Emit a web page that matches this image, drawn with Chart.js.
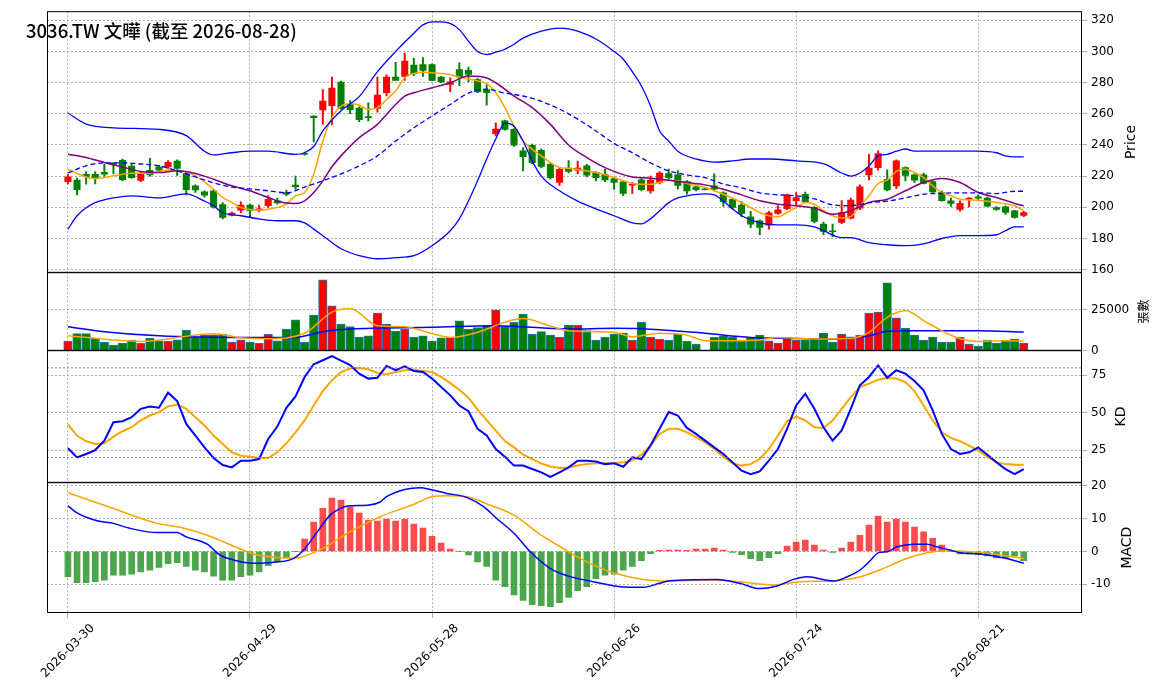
<!DOCTYPE html>
<html>
  <head>
    <style>
      body { margin: 0; background: #fff; }
      .panel { position: absolute; left: 0; width: 1164px; }
      #title {
        position: absolute; left: 26px; top: 17px; z-index: 5;
        font: 500 18.5px "Noto Sans CJK TC", "DejaVu Sans", sans-serif;
      }
    </style>
  </head>
  <body>
    <div id="title">3036.TW 文曄 (截至 2026-08-28)</div>
    <div class="panel" style="top:0;height:284px"><canvas id="priceChart"></canvas></div>
    <div class="panel" style="top:261px;height:101px"><canvas id="volChart"></canvas></div>
    <div class="panel" style="top:339px;height:155px"><canvas id="kdChart"></canvas></div>
    <div class="panel" style="top:471px;height:227px"><canvas id="macdChart"></canvas></div>

    <script src="https://cdn.jsdelivr.net/npm/chart.js"></script>
    <script>
      // x ticks: bar index -> date
      tickIdx = [0, 20, 40, 60, 80, 100];
      tickDates = ['2026-03-30', '2026-04-29', '2026-05-28', '2026-06-26', '2026-07-24', '2026-08-21'];

      opens = [216.5,217.4,221.2,221.2,222.5,228.3,230.2,226.4,217.2,223.8,225.9,225.9,229.6,221.7,213.8,209.9,210.6,201.8,195,198.2,
        201.4,198.2,201,204.2,209.5,214.2,234.6,258.5,262.4,265.2,280.3,266,263.7,258.2,263.5,273.5,283.5,284,291.2,291.6,
        291.6,283.5,278.8,288.4,287.8,282,275.6,247.3,255.4,250,236.2,239.8,236.6,227.6,215.9,225.1,223.8,226.6,222.3,221.2,
        218.5,216.3,214.2,217.6,210.6,215.9,221.7,220.8,216.5,213.1,211.8,213.8,209.3,205.2,201.4,193.9,191.4,188.6,196.1,199.2,
        204.2,208.4,199.9,189.2,184.9,190.3,193.1,199.5,220.8,225.5,218,213.8,225.5,220.8,220.8,216.5,209.5,204.2,198.6,205.2,
        206.7,205.9,199.9,200.3,197.8,194.8];
      highs = [221,218.7,223,223,227.6,228.7,231,227.5,222.5,231.5,227,230,230.5,222.5,214.5,210.5,211,203,197,203.5,
        202,201.5,207.5,206,211,220,235.5,258.8,275.6,283.5,281,268.5,264.5,267,283.5,285,293,299,295.5,296,
        292,284,283,292.7,290,282.5,278.8,254.2,256,250.5,238.4,240.5,237.5,228.5,225,230,229.5,227.5,223,224.5,
        219,216.8,216,218.5,220,223,224.5,223.5,217.2,213.6,212.2,221.5,210,206,203.8,197.5,192,197.5,201,208.5,
        209.5,209.7,200.5,190.5,189.2,204.3,206,214.5,234,236.2,224,230.5,226,221.5,222,217,210.5,206,204.2,206.3,
        208,206.5,200.5,201,198,197.5];
      lows = [215,208,214.8,215,220,221.5,217,218.5,216.5,220,222.5,225,220.5,208,209.5,206.5,199.5,192.5,194.5,196.5,
        194,197,200,202,207.5,211.5,233.5,242,253.2,253,263,260,255,255.5,261,271.5,283,281.4,284.5,284,
        281,280,274,278,280.5,273.5,265.5,245.8,249.5,239,223.4,228,225.5,218,214,222,221.5,219.5,217,216.5,
        211.5,207.5,208.9,210.5,209,215,218,211.7,208.5,210.5,211.2,210.5,200.6,199,194,187,182.4,186,195.5,198.5,
        201,203,190,182.5,181.2,189.5,192.5,198.5,217.5,223.8,210.5,212,217,216,215,209.5,204,200.5,197.5,200.3,
        205,200.5,198,195.5,193,194];
      closes = [219.5,211.4,219.7,218.7,221.2,227.6,217.8,219.1,221.2,220.8,223.8,228.9,224.9,211.4,211.2,207.8,200.3,193.5,196.3,201.4,
        197.8,199,205.2,202.9,208.4,213.3,234.1,257.5,268.2,276.5,263.5,262.6,256.2,257.5,272,283.5,281.4,293.8,285.7,287.8,
        281.4,280.5,280.5,283.5,285.2,274.1,273.5,250.2,250,239.8,232.5,228.7,226.3,219.1,224.4,223,225.1,220.6,219.1,217.6,
        215.9,208.9,214.8,211.4,217.4,221.9,219.1,214,210.6,211.4,211.4,211.6,203.7,199.9,196.1,189.2,187.1,196.5,198.4,208,
        206.3,203.7,190.9,184.5,184.5,196.7,204.6,213.1,225.1,234.5,211.2,229.8,220.4,217.4,215.3,209.9,204.2,202.5,202.5,206,
        205.9,200.7,198.6,196.7,193.5,196.7];
      volumes = [5900,10400,10400,7700,5300,3500,4700,6500,4500,7700,6100,5700,6700,12600,8100,9700,9700,10100,5300,6700,
        5300,4500,10100,6100,13200,18700,5100,21700,43000,27200,16200,14600,8300,9100,22900,16200,12000,13200,8300,9100,
        5900,7900,8300,18100,13000,14000,15400,24800,14800,17300,22300,10100,11600,9500,8300,15600,15600,12200,6500,8100,
        10100,10800,6500,17300,8100,7100,6500,10100,5700,4100,300,8100,9100,8100,5700,8100,9500,6100,4700,8100,
        6500,6500,7100,10800,5300,10100,8500,9500,22900,23500,41200,19900,13800,9500,6500,8300,5300,5300,8100,4100,
        2800,6500,4700,6500,7100,4700];

      // [bar index, value]
      ma5 = [[0,224.4],[2,219.5],[3,218.5],[5,220.2],[7,221.9],[9,221.9],[11,224],[12,223.8],[14,220.2],[16,211.6],[17,206.3],[18,203.1],
        [19,199.9],[21,198.2],[22,198.8],[24,202],[25,207.4],[26,209.5],[27,221.2],[28,242.6],[29,257.5],[30,265],[31,266.5],[32,265.6],
        [33,262.8],[34,263.9],[35,269.2],[36,274.6],[37,283.1],[38,285.9],[39,286.7],[40,286.3],[42,285.2],[43,283.5],[45,281],[46,279.3],
        [47,273.5],[48,263.9],[49,252.2],[50,242.6],[51,237.2],[52,233],[53,228.7],[54,225.5],[55,225],[58,222.3],[60,219.1],[62,215.3],
        [63,214.8],[64,214.8],[66,217.4],[67,217],[68,215.3],[70,212.7],[72,208.4],[74,203.1],[76,196.7],[77,194.6],[78,193.9],[79,196.7],
        [80,199.9],[81,203.1],[82,202],[83,197.8],[84,194.6],[85,193.1],[86,194],[87,201],[88,207.4],[89,215.3],[90,217.4],[91,223],
        [92,224.4],[93,222.3],[94,219.1],[95,213.8],[96,209.5],[97,207.4],[98,205.2],[100,204.6],[102,203.1],[104,201],[105,197.8]];
      ma10 = [[0,234],[2,232],[4,228.7],[6,225.9],[8,223],[10,222.3],[12,223.4],[14,221.7],[16,218],[18,213.8],[20,210.6],[22,206.3],
        [24,202.7],[25,202.5],[26,204.2],[27,209.5],[28,217],[29,226],[30,233],[32,244.7],[34,253.2],[35,259.6],[36,266],[37,271.4],
        [38,273.5],[40,276.7],[42,279.9],[44,284.2],[46,283],[47,279.9],[49,271.4],[51,263.9],[53,253.2],[55,240],[57,231.9],[59,225.5],
        [62,219.5],[64,218.7],[66,217.4],[68,215.9],[70,214.4],[72,211.6],[74,208],[76,204.2],[78,202],[80,201],[82,199.5],[84,195.6],
        [86,197.8],[88,203.1],[90,205.2],[92,210.6],[94,215.9],[96,218.5],[98,215.9],[100,209.5],[102,206.3],[104,202.5],[105,201]];
      ma20 = [[0,222],[2,226.6],[4,228.5],[6,228.5],[8,227.8],[10,226.6],[12,223.4],[14,219.5],[16,215.7],[18,213],[20,211.8],[22,210.6],
        [24,209.3],[26,213],[28,217],[30,221.4],[32,226.6],[34,233],[36,242.5],[38,251],[40,258.6],[42,266],[44,273.3],[46,275.8],
        [48,273.3],[50,271.4],[52,268],[54,263],[56,256.6],[58,249],[60,241],[62,235],[64,228.5],[66,223.4],[68,220.8],[70,219],
        [72,215],[74,212.5],[76,209.3],[78,208],[80,207.4],[82,205.4],[84,201.6],[86,201],[88,203],[90,204],[92,206],[94,208.4],
        [96,209],[98,209.3],[100,209.3],[102,208.8],[104,210.3],[105,210.3]];
      bbUpper = [[0,260.5],[2,253.4],[5,251],[10,250],[13,246],[15,236],[16,233.6],[18,235],[20,236],[22,236],[25,234],[26,235],
        [27,239],[28,249],[30,262],[32,271],[34,287],[36,300],[38,311.7],[39,317],[40,319],[41,319],[42,318],[43,314],[44,306.6],
        [45,300],[46,298],[47,299.5],[48,301.4],[49,304.6],[50,308.5],[52,313],[54,315],[55,314.5],[56,313],[58,308],[60,300],[61,295],
        [62,287],[63,277.8],[64,265],[65,249],[66,242.5],[67,236],[69,231],[71,229],[73,229.8],[75,231],[77,231],[80,229.8],[83,228],
        [85,222],[86,220],[87,222],[88,226.6],[89,233],[90,234],[91,236],[92,237.4],[93,236],[97,236],[100,236],[102,235],[103,233],
        [104,232.3],[105,232.3]];
      bbLower = [[0,186],[1,194.6],[2,199.7],[3,203],[5,206],[7,207.4],[10,206],[13,208.6],[15,204],[16,201],[17,196.5],[19,194.6],
        [21,192.6],[23,191.4],[25,191.4],[26,190],[27,186],[28,181.8],[30,173.4],[32,169],[34,167],[36,167.7],[38,169],[40,175.4],
        [42,185],[43,192.6],[44,204],[45,217],[46,231],[47,243.8],[48,254],[49,252],[50,242.5],[51,229.8],[52,220],[54,210.6],[56,204],
        [58,199],[60,194.6],[62,190],[63,189.4],[64,192.6],[65,197.8],[66,203],[67,206],[68,207.4],[70,208.6],[71,208],[72,204],[73,199],
        [74,194.6],[76,190],[78,188.8],[80,188.8],[82,187.5],[83,185],[85,180.5],[86,180.5],[88,177.3],[90,176],[92,175.4],[94,176.6],
        [96,180],[98,181.8],[100,181.8],[102,182.4],[103,185],[104,187.5],[105,187.5]];
      volMa5 = [[0,9100],[8,5700],[16,10400],[19,7900],[22,7300],[26,10600],[29,23400],[31,25600],[34,15200],[37,14600],[40,10400],
        [42,8100],[45,11200],[48,17300],[50,19500],[53,15000],[55,12200],[60,11200],[62,8500],[65,10600],[68,9500],[70,6100],[73,6100],
        [76,6500],[78,8100],[82,7100],[86,7500],[88,11200],[90,20300],[92,24400],[94,18300],[96,12200],[98,7300],[100,5700],[103,6100],[105,5900]];
      volMa20 = [[0,14600],[4,11600],[10,9100],[20,8100],[25,8100],[28,11600],[31,13200],[40,14200],[47,15200],[55,13200],[60,13600],
        [65,12800],[70,10600],[75,8100],[80,7500],[85,7000],[88,9100],[90,11800],[92,12200],[100,12200],[105,11400]];

      kValues = [26.2,20.1,22.4,25,31.3,43.6,44.3,47,52.6,54.2,53.3,63.4,57.8,42.5,34.7,26.8,19.7,15,13.4,17.9,
        17.9,19,32.4,40.7,53.3,60.9,73.9,82.4,85.1,87.8,84.8,81.9,76.1,72.8,73.4,81.3,78.4,81,77.9,77.2,
        72.8,67.2,61.6,54.8,51,39.2,34.7,25.7,20.6,14.6,14.6,12.3,10.1,7.1,10.1,13.4,17.9,17.9,17.4,15.6,
        16.1,13.8,20.1,19,28,39.2,50.4,48.1,39.8,35.8,31.3,26.8,22.4,16.8,11.2,8.9,10.7,17.9,25.7,39.2,
        54.8,62.7,52.6,40.3,31.3,38.1,52.6,68.3,73.9,81.7,73.4,78.4,76.1,71.2,64.9,51.5,35.8,25.7,22.4,23.5,
        26.8,21.9,16.8,12.3,8.9,12.3];
      dValues = [42.1,34.7,30.9,29.1,29.5,34,37.6,40.3,44.8,48.1,50.4,54.2,55.5,52.6,47,41.4,34.7,29.1,23.5,21.2,
        20.6,19.7,19.7,23.5,29.5,36.9,44.8,54.8,64.5,71.6,77.2,79.5,79.9,79,76.6,75.7,77.2,78.4,78.8,77.9,
        77.2,73.9,69.8,65.4,60,52,45,38,31,26.8,22,19,16,14,13,13.4,14.6,15.6,16.1,16.1,
        16.1,16.8,17.9,21.9,28,35.8,39.2,39.2,36.9,33.6,30.2,25.7,20.6,16.1,14.6,15.6,19,25.7,34.7,44.3,
        47.4,44.8,40.3,39.8,44.8,52.6,60.4,67.2,69.4,72.1,73.2,72.8,70.5,64.5,54.8,44.8,36.9,33.1,30.9,28,
        24.6,20.6,16.8,15.6,15.2,15.2];

      macdLine = [[0,13.8],[1,11.7],[3.2,9.3],[5,8.5],[6.8,7],[9.8,5.7],[12,5.7],[13,4.4],[15.3,2.2],[16.7,-1.1],[18.2,-2.6],[20.4,-3.6],
        [22.6,-3.3],[24.8,-2.1],[25.9,0.4],[27,4.4],[28.8,11],[29.9,13],[30.7,13.8],[32.9,14],[34.3,15],[35,16.6],[37,18.8],[38.7,19.3],
        [39.8,18.8],[41.6,17.6],[43.8,16.4],[45.7,13.5],[47.1,10],[49,5.5],[50.8,-0.1],[53,-5.2],[55,-7.5],[57.7,-9.2],[60.7,-10.7],
        [63.2,-10.9],[65,-9.7],[66.1,-8.9],[71.3,-8.5],[73.8,-9.7],[76,-11.3],[77.9,-10.5],[79.7,-8.5],[81.2,-7.7],[84.2,-9],[85.6,-7.7],
        [87.1,-5.5],[88.2,-2.6],[89.1,-0.3],[90,-0.1],[91.1,1.4],[92.9,2.2],[94.4,2.2],[95.4,1.4],[96.9,0.4],[98,-0.4],[100.2,-0.8],
        [103,-2.1],[105,-3.6]];
      signalLine = [[0,17.8],[5,13],[9.8,8.5],[12.3,7.3],[15.3,4.9],[17.5,2.4],[20.4,-0.8],[22.6,-1.8],[24.8,-2.1],[28,0.9],[30.7,5.5],
        [34.3,10.5],[38,14.3],[40,16.6],[41.6,16.9],[43.8,16.6],[46.4,14],[49,11],[52,4.9],[54.7,0.4],[55.9,-1.6],[57.7,-4.1],[59.9,-6.5],
        [63.2,-8.5],[66.1,-9],[70.5,-8.7],[73.8,-9.2],[77.5,-10.2],[80.4,-9.2],[84.2,-8.9],[87.1,-7.7],[89.3,-5.5],[92.2,-2.1],[94.4,-0.4],
        [96.5,0.2],[100.2,-0.3],[105,-2.1]];
      histValues = [-7.7,-9.5,-9.5,-9.2,-8.7,-7.2,-7.2,-6.9,-6.2,-5.7,-4.9,-3.7,-3.4,-4.6,-5.7,-6.2,-7.5,-8.7,-8.7,-7.7,
        -7.2,-6.2,-4.3,-3.2,-1.8,0,3.7,8.9,13.1,16.2,15.6,13.5,11.6,9.5,9.2,9.8,9.2,9.8,8.3,7.1,
        4.6,2.5,0.7,0,-1.1,-3.2,-4.6,-8.7,-10.7,-13.2,-14.9,-16.2,-16.5,-16.8,-15.6,-14,-11.9,-10.7,-8.3,-7.2,
        -6.9,-5.7,-4.6,-2.8,-0.7,0.3,0.4,0.4,0.3,0.7,0.7,1,0.4,-0.3,-1,-2.2,-2.8,-1.9,-0.7,1.6,
        2.8,3.4,1.9,0.4,-0.3,1,2.8,4.9,8,10.7,8.9,9.8,8.9,7.4,5.9,4,1.9,0,-0.8,-0.8,
        -1,-1.4,-2,-2,-1.4,-2.8];

      const X_MIN = -2.3, X_MAX = 111.4;
      const RED = '#ff0000', GREEN = '#008000';
      const FONT = "'DejaVu Sans', 'Noto Sans CJK TC', sans-serif";
      Chart.defaults.font.family = FONT;
      Chart.defaults.color = '#000';

      const up = closes.map((c, i) => c >= opens[i]);
      const pts = arr => arr.map(p => ({x: p[0], y: p[1]}));
      const daily = arr => arr.map((v, i) => ({x: i, y: v}));

      function line(data, color, width, extra) {
        return Object.assign({type: 'line', data: data, borderColor: color, borderWidth: width,
          pointRadius: 0, fill: false, cubicInterpolationMode: 'monotone', order: 1}, extra || {});
      }

      // frame, side titles, reference lines, rotated date labels
      const panelPlugin = {
        id: 'panel',
        afterDatasetsDraw(chart, args, opts) {
          const c = chart.ctx, a = chart.chartArea;
          c.save();
          if (opts.refLines) {
            c.strokeStyle = '#888'; c.lineWidth = 1; c.setLineDash([2, 2]);
            opts.refLines.forEach(v => {
              const y = chart.scales.y.getPixelForValue(v);
              c.beginPath(); c.moveTo(a.left, y); c.lineTo(a.right, y); c.stroke();
            });
            c.setLineDash([]);
          }
          c.strokeStyle = '#000'; c.lineWidth = 1;
          c.strokeRect(a.left + 0.5, a.top + 0.5, a.right - a.left - 1, a.bottom - a.top - 1);
          c.fillStyle = '#000';
          if (opts.dates) {
            c.font = '12px ' + FONT;
            c.textAlign = 'center'; c.textBaseline = 'middle';
            tickIdx.forEach((v, k) => {
              c.save();
              c.translate(chart.scales.x.getPixelForValue(v), a.bottom + 38);
              c.rotate(-Math.PI / 4);
              c.fillText(tickDates[k], 0, 0);
              c.restore();
            });
          }
          if (opts.title) {
            c.translate(opts.titleX, (a.top + a.bottom) / 2);
            c.rotate(-Math.PI / 2);
            c.font = opts.titleSize + 'px ' + FONT;
            c.textAlign = 'center'; c.textBaseline = 'middle';
            c.fillText(opts.title, 0, 0);
          }
          c.restore();
        }
      };

      function options(yMin, yMax, yTicks, bottom, panel, pad) {
        return {
          responsive: true, maintainAspectRatio: false, animation: false,
          layout: {autoPadding: false, padding: {left: 47, top: pad.top || 0, right: 0, bottom: 0}},
          plugins: {legend: {display: false}, tooltip: {enabled: false}, panel: panel},
          scales: {
            x: {
              type: 'linear', min: X_MIN, max: X_MAX, offset: false,
              afterBuildTicks: s => { s.ticks = tickIdx.map(v => ({value: v})); },
              afterFit: s => { s.height = bottom ? 85 : 0; },
              grid: {color: '#b0b0b0', drawTicks: bottom, tickLength: 5, offset: false},
              border: {display: false, dash: [2, 2]},
              ticks: {display: false}
            },
            y: {
              position: 'right', min: yMin, max: yMax,
              afterBuildTicks: s => { s.ticks = yTicks.map(v => ({value: v})); },
              afterFit: s => { s.width = 82; },
              grid: {color: '#b0b0b0', tickLength: 5},
              border: {display: false, dash: [2, 2]},
              ticks: {font: {size: 12}, color: '#000', padding: 4, callback: v => String(v)}
            }
          }
        };
      }

      new Chart(document.getElementById('priceChart'), {
        type: 'bar',
        data: {
          datasets: [
            line(pts(bbUpper), '#0000ff', 1.3),
            line(pts(bbLower), '#0000ff', 1.3),
            line(pts(ma20), '#0000ff', 1.3, {borderDash: [5, 3]}),
            line(pts(ma10), '#800080', 1.5),
            line(pts(ma5), '#ffa500', 1.5),
            {type: 'bar', data: closes.map((c, i) => ({x: i, y: [lows[i], highs[i]]})),
              backgroundColor: up.map(u => u ? RED : GREEN), barThickness: 1.3, grouped: false, order: 3},
            {type: 'bar', data: closes.map((c, i) => ({x: i, y: [opens[i], Math.abs(c - opens[i]) < 0.5 ? opens[i] + (up[i] ? 0.5 : -0.5) : c]})),
              backgroundColor: up.map(u => u ? RED : GREEN), barThickness: 6.4, grouped: false, order: 2}
          ]
        },
        options: options(158, 325.8, [160, 180, 200, 220, 240, 260, 280, 300, 320], false,
          {title: 'Price', titleX: 1131, titleSize: 14}, {top: 8}),
        plugins: [panelPlugin]
      });

      new Chart(document.getElementById('volChart'), {
        type: 'bar',
        data: {
          datasets: [
            line(pts(volMa5), '#ffa500', 1.5),
            line(pts(volMa20), '#0000ff', 1.5),
            {type: 'bar', data: daily(volumes), backgroundColor: up.map(u => u ? RED : GREEN),
              borderColor: '#1f77b4', borderWidth: 1, barThickness: 8.5, grouped: false, order: 2}
          ]
        },
        options: options(0, 47600, [0, 25000], false, {title: '張數', titleX: 1145, titleSize: 12}, {}),
        plugins: [panelPlugin]
      });

      new Chart(document.getElementById('kdChart'), {
        type: 'line',
        data: {
          datasets: [
            line(daily(kValues), '#0000ff', 2, {cubicInterpolationMode: 'default', tension: 0}),
            line(daily(dValues), '#ffa500', 2, {cubicInterpolationMode: 'default', tension: 0})
          ]
        },
        options: options(3.1, 91.8, [25, 50, 75], false,
          {title: 'KD', titleX: 1121, titleSize: 14, refLines: [80, 20]}, {}),
        plugins: [panelPlugin]
      });

      new Chart(document.getElementById('macdChart'), {
        type: 'bar',
        data: {
          datasets: [
            line(pts(macdLine), '#0000ff', 1.5),
            line(pts(signalLine), '#ffa500', 1.5),
            {type: 'bar', data: daily(histValues),
              backgroundColor: histValues.map(v => v >= 0 ? 'rgba(255,0,0,0.7)' : 'rgba(0,128,0,0.7)'),
              barThickness: 6, grouped: false, order: 2}
          ]
        },
        options: options(-18.7, 21, [-10, 0, 10, 20], true,
          {title: 'MACD', titleX: 1127, titleSize: 14, dates: true}, {}),
        plugins: [panelPlugin]
      });
    </script>
  </body>
</html>
